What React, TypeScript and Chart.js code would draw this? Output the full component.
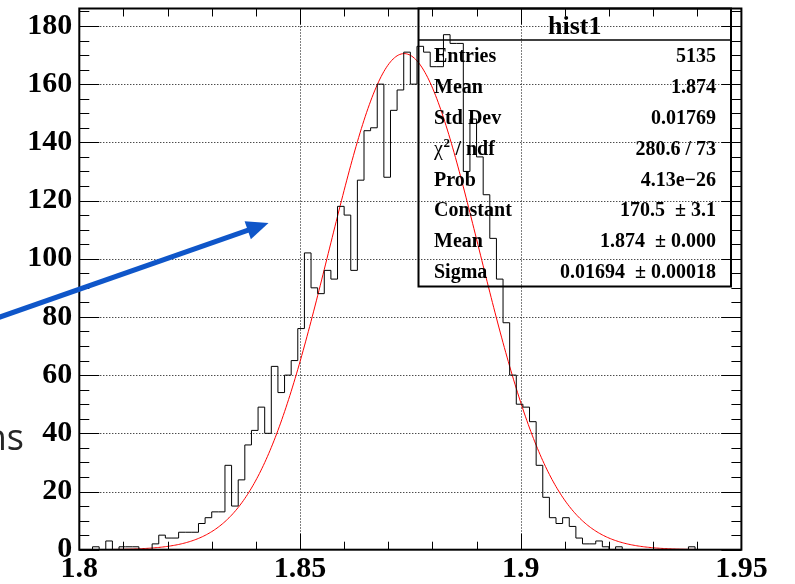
import React, { useEffect, useRef } from 'react';
import { Chart, registerables } from 'chart.js';

Chart.register(...registerables);

// ---- data ----
const xMin = 1.8;
const xMax = 1.95;
const binWidth = 0.0015;
const counts = [
  0, 0, 0, 1, 0, 3, 0, 1, 1, 1, 0, 0,
  2, 5, 4, 4, 6, 6, 6, 9, 11, 13, 13,
  29, 15, 24, 36, 41, 49, 40,
  63, 54, 60, 65, 76, 102, 90, 88, 96, 93,
  118, 115, 96, 127, 144, 145, 160, 128, 151, 158,
  171, 160, 173, 171, 166, 166, 177, 174, 174, 130,
  148, 135, 122, 107, 93, 78, 60, 50, 49, 44,
  29, 18, 11, 9, 11, 8, 4, 2, 2, 3,
  1, 0, 1, 0, 0, 0, 0, 0, 0, 0,
  0, 0, 0, 1, 0, 0, 0, 0, 0, 0,
];
const xTickValues = [1.8, 1.85, 1.9, 1.95];
const xTickLabels = ['1.8', '1.85', '1.9', '1.95'];
const yTickValues = [0, 20, 40, 60, 80, 100, 120, 140, 160, 180];
const yTickLabels = ['0', '20', '40', '60', '80', '100', '120', '140', '160', '180'];
const yMax = 186;
const xMinorStep = 0.01;
const yMinorStep = 5;

// Gaussian fit parameters (shown in the stat box)
const fitConstant = 170.5;
const fitMean = 1.8736;
const fitSigma = 0.01694;

const statTitle = 'hist1';
const statLabels = ['Entries', 'Mean', 'Std Dev', 'CHI2', 'Prob', 'Constant', 'Mean', 'Sigma'];
const statValues = ['5135', '1.874', '0.01769', '280.6 / 73', '4.13e\u221226', '170.5  \u00b1 3.1', '1.874  \u00b1 0.000', '0.01694  \u00b1 0.00018'];

const SERIF = '"Liberation Serif", "Times New Roman", serif';

const rootPlugin = {
  id: 'rootDecor',
  beforeDatasetsDraw(chart: any) {
    const { ctx, chartArea: a, scales } = chart;
    const x = scales.x, y = scales.y;
    ctx.save();
    ctx.strokeStyle = '#000';
    ctx.lineWidth = 1;
    ctx.setLineDash([1, 2]);
    for (const v of yTickValues) {
      if (v === 0) continue;
      const py = Math.round(y.getPixelForValue(v)) + 0.5;
      ctx.beginPath(); ctx.moveTo(a.left, py); ctx.lineTo(a.right, py); ctx.stroke();
    }
    for (const v of xTickValues) {
      if (v === xMin || v === xMax) continue;
      const px = Math.round(x.getPixelForValue(v)) + 0.5;
      ctx.beginPath(); ctx.moveTo(px, a.top); ctx.lineTo(px, a.bottom); ctx.stroke();
    }
    ctx.restore();
  },
  afterDatasetsDraw(chart: any) {
    const { ctx, chartArea: a, scales } = chart;
    const x = scales.x, y = scales.y;
    ctx.save();
    ctx.setLineDash([]);
    ctx.strokeStyle = '#000';
    // ticks
    ctx.lineWidth = 1;
    const yMajLen = 20, yMinLen = 10, xMajLen = 16, xMinLen = 8;
    for (let v = 0; v <= yMax + 1e-9; v += yMinorStep) {
      const isMaj = Math.abs(v % 20) < 1e-9;
      const len = isMaj ? yMajLen : yMinLen;
      const py = Math.round(y.getPixelForValue(v)) + 0.5;
      ctx.beginPath(); ctx.moveTo(a.left, py); ctx.lineTo(a.left + len, py); ctx.stroke();
      ctx.beginPath(); ctx.moveTo(a.right, py); ctx.lineTo(a.right - len, py); ctx.stroke();
    }
    for (let k = 0; k <= 15; k++) {
      const v = xMin + k * xMinorStep;
      const isMaj = k % 5 === 0;
      const len = isMaj ? xMajLen : xMinLen;
      const px = Math.round(x.getPixelForValue(v)) + 0.5;
      ctx.beginPath(); ctx.moveTo(px, a.bottom); ctx.lineTo(px, a.bottom - len); ctx.stroke();
      ctx.beginPath(); ctx.moveTo(px, a.top); ctx.lineTo(px, a.top + len); ctx.stroke();
    }
    // frame
    ctx.lineWidth = 2;
    ctx.strokeRect(a.left, a.top, a.right - a.left, a.bottom - a.top);

    // stat box
    const bl = 418.5, br = 731, bt = a.top, bb = 286.5, sep = 40;
    ctx.lineWidth = 2;
    ctx.strokeRect(bl, bt, br - bl, bb - bt);
    ctx.lineWidth = 1.5;
    ctx.beginPath(); ctx.moveTo(bl, sep); ctx.lineTo(br, sep); ctx.stroke();
    ctx.fillStyle = '#000';
    ctx.font = `bold 26px ${SERIF}`;
    ctx.textAlign = 'center';
    ctx.textBaseline = 'alphabetic';
    ctx.fillText(statTitle, (bl + br) / 2, 33.5);
    const rowH = (bb - sep) / statLabels.length;
    const lx = 434, rx = 716;
    for (let i = 0; i < statLabels.length; i++) {
      const base = sep + rowH * (i + 0.5) + 7;
      ctx.font = `bold 20px ${SERIF}`;
      ctx.textAlign = 'left';
      if (statLabels[i] === 'CHI2') {
        ctx.font = `20px ${SERIF}`;
        ctx.fillText('\u03c7', lx, base);
        const w = ctx.measureText('\u03c7').width;
        ctx.font = `bold 13px ${SERIF}`;
        ctx.fillText('2', lx + w + 0.5, base - 8);
        const w2 = ctx.measureText('2').width;
        ctx.font = `bold 20px ${SERIF}`;
        ctx.fillText(' / ndf', lx + w + w2 + 1, base);
      } else {
        ctx.fillText(statLabels[i], lx, base);
      }
      ctx.textAlign = 'right';
      ctx.font = `bold 20px ${SERIF}`;
      ctx.fillText(statValues[i], rx, base);
    }

    // blue annotation arrow
    const sx = 0, sy = 317, tx = 268.5, ty = 223;
    const dx = tx - sx, dy = ty - sy;
    const L = Math.hypot(dx, dy);
    const ux = dx / L, uy = dy / L;
    const headLen = 22, headHalf = 9.5;
    const bx = tx - ux * headLen, by = ty - uy * headLen;
    ctx.strokeStyle = '#0f56c9';
    ctx.fillStyle = '#0f56c9';
    ctx.lineWidth = 5;
    ctx.lineCap = 'butt';
    ctx.beginPath(); ctx.moveTo(sx - 5 * ux, sy - 5 * uy); ctx.lineTo(bx + ux * 2, by + uy * 2); ctx.stroke();
    ctx.beginPath();
    ctx.moveTo(tx, ty);
    ctx.lineTo(bx - uy * headHalf, by + ux * headHalf);
    ctx.lineTo(bx + uy * headHalf, by - ux * headHalf);
    ctx.closePath();
    ctx.fill();

    // cut-off slide text on the left
    ctx.fillStyle = '#262626';
    ctx.font = `36px "Open Sans", sans-serif`;
    ctx.textAlign = 'right';
    ctx.fillText('ns', 24, 450);
    ctx.restore();
  },
};

export default function App() {
  const ref = useRef<HTMLCanvasElement>(null);
  useEffect(() => {
    document.body.style.margin = '0';
    const canvas = ref.current!;
    const histData: { x: number; y: number }[] = counts.map((c, i) => ({ x: xMin + i * binWidth, y: c }));
    histData.push({ x: xMax, y: counts[counts.length - 1] });
    const fitData: { x: number; y: number }[] = [];
    const nFit = 500;
    for (let k = 0; k <= nFit; k++) {
      const xv = xMin + ((xMax - xMin) * k) / nFit;
      fitData.push({ x: xv, y: fitConstant * Math.exp(-0.5 * ((xv - fitMean) / fitSigma) ** 2) });
    }
    const tickFont = { family: SERIF, weight: 'bold' as const, size: 30 };
    const chart = new Chart(canvas, {
      type: 'line',
      data: {
        datasets: [
          { data: histData, borderColor: '#000', borderWidth: 1, stepped: 'after', pointRadius: 0, fill: false },
          { data: fitData, borderColor: '#ff0000', borderWidth: 1, pointRadius: 0, tension: 0, fill: false },
        ],
      },
      options: {
        responsive: false,
        animation: false,
        devicePixelRatio: 1,
        events: [],
        layout: { padding: { top: 8.5, right: 53.6, left: 0, bottom: 0 } },
        plugins: { legend: { display: false }, tooltip: { enabled: false }, title: { display: false } },
        scales: {
          x: {
            type: 'linear',
            min: xMin,
            max: xMax,
            grid: { display: false, drawTicks: false },
            border: { display: false },
            afterBuildTicks: (s: any) => { s.ticks = xTickValues.map((v) => ({ value: v })); },
            afterFit: (s: any) => { s.height = 34.3; s.paddingLeft = 0; s.paddingRight = 0; },
            ticks: {
              autoSkip: false,
              maxRotation: 0,
              minRotation: 0,
              padding: 2,
              color: '#000',
              font: tickFont,
              callback: (_v: any, i: number) => xTickLabels[i],
            },
          },
          y: {
            type: 'linear',
            min: 0,
            max: yMax,
            grid: { display: false, drawTicks: false },
            border: { display: false },
            afterBuildTicks: (s: any) => { s.ticks = yTickValues.map((v) => ({ value: v })); },
            afterFit: (s: any) => { s.width = 79.3; s.paddingTop = 0; s.paddingBottom = 0; },
            ticks: {
              autoSkip: false,
              padding: 7,
              color: '#000',
              font: tickFont,
              callback: (_v: any, i: number) => yTickLabels[i],
            },
          },
        },
      },
      plugins: [rootPlugin],
    } as any);
    return () => chart.destroy();
  }, []);
  return (
    <div style={{ position: 'fixed', left: 0, top: 0, width: 795, height: 584, background: '#fff' }}>
      <canvas ref={ref} width={795} height={584} style={{ display: 'block', width: 795, height: 584 }} />
    </div>
  );
}
